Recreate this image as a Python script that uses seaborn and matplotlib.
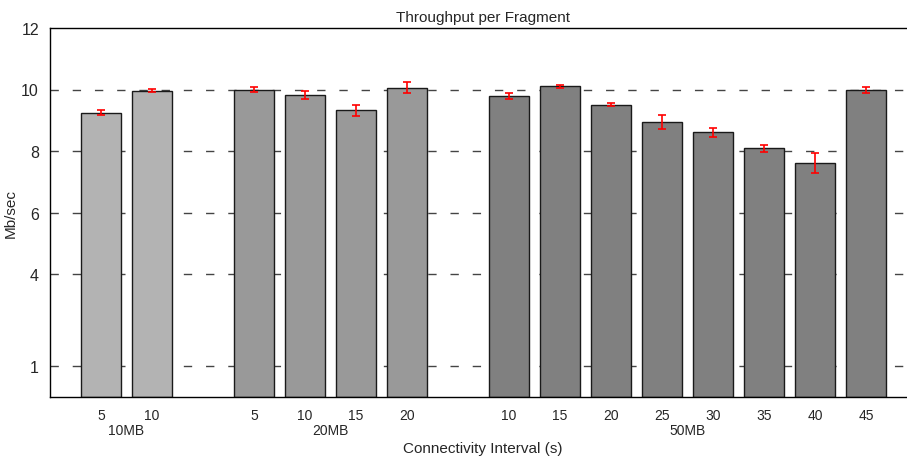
import matplotlib
matplotlib.use('Agg')
import matplotlib.pyplot as plt
import pandas as pd
import numpy as np
import seaborn as sns

# data
groups = ['10MB', '20MB', '50MB']
intervals_10 = [5, 10]
intervals_20 = [5, 10, 15, 20]
intervals_50 = [10, 15, 20, 25, 30, 35, 40, 45]
thr_10 = [9.25, 9.96]
thr_20 = [10.0, 9.82, 9.32, 10.06]
thr_50 = [9.79, 10.10, 9.51, 8.95, 8.61, 8.09, 7.60, 9.97]
err_10 = [0.08, 0.05]
err_20 = [0.09, 0.13, 0.18, 0.17]
err_50 = [0.09, 0.04, 0.05, 0.22, 0.14, 0.11, 0.33, 0.10]
colors = ['#b3b3b3', '#999999', '#808080']

rows = []
pos = 0
group_centers = []
for g, ivs, vals, errs in zip(groups,
                              [intervals_10, intervals_20, intervals_50],
                              [thr_10, thr_20, thr_50],
                              [err_10, err_20, err_50]):
    start = pos
    for iv, v, e in zip(ivs, vals, errs):
        rows.append({'pos': pos, 'interval': iv, 'group': g, 'value': v, 'err': e})
        pos += 1
    group_centers.append((start + pos - 1) / 2)
    pos += 1  # empty slot between groups
df = pd.DataFrame(rows)

sns.set_style('white')
plt.rcParams['font.family'] = ['Liberation Sans', 'DejaVu Sans']

fig = plt.figure(figsize=(9.07, 4.6), dpi=100)
ax = fig.add_axes([50 / 907, 62 / 460, 867 / 907, 369 / 460])

# dashed grid behind bars
for y in [1, 4, 6, 8, 10]:
    ax.axhline(y, color='#444444', lw=1.0, ls=(0, (6, 10)), zorder=0)

sns.barplot(data=df, x='pos', y='value', hue='group', native_scale=True,
            palette=colors, dodge=False, errorbar=None, width=0.8,
            edgecolor='#1a1a1a', linewidth=1.0, legend=False, ax=ax, zorder=2)

ax.errorbar(df['pos'], df['value'], yerr=df['err'], fmt='none',
            ecolor='red', elinewidth=1.2, capsize=3, capthick=1.2, zorder=3)

ax.set_xlim(-1, 16)
ax.set_ylim(0, 12)
ax.set_yticks([1, 4, 6, 8, 10, 12])
ax.set_xticks(df['pos'])
ax.set_xticklabels([str(i) for i in df['interval']], fontsize=10)
ax.tick_params(axis='x', length=0, pad=8)
ax.tick_params(axis='y', length=0, pad=8, labelsize=11.5)
for gc, g in zip(group_centers, groups):
    ax.text(gc, -1.07, g, ha='center', va='center', fontsize=10)

ax.set_xlabel('Connectivity Interval (s)', fontsize=11)
ax.xaxis.set_label_coords(433 / 867, -0.118)
ax.set_ylabel('Mb/sec', fontsize=11)
ax.yaxis.set_label_coords(-32 / 867, 0.5)
ax.set_title('Throughput per Fragment', fontsize=11, pad=5)
for s in ax.spines.values():
    s.set_color('black')
    s.set_linewidth(1.0)

fig.savefig('out.png', dpi=100)
